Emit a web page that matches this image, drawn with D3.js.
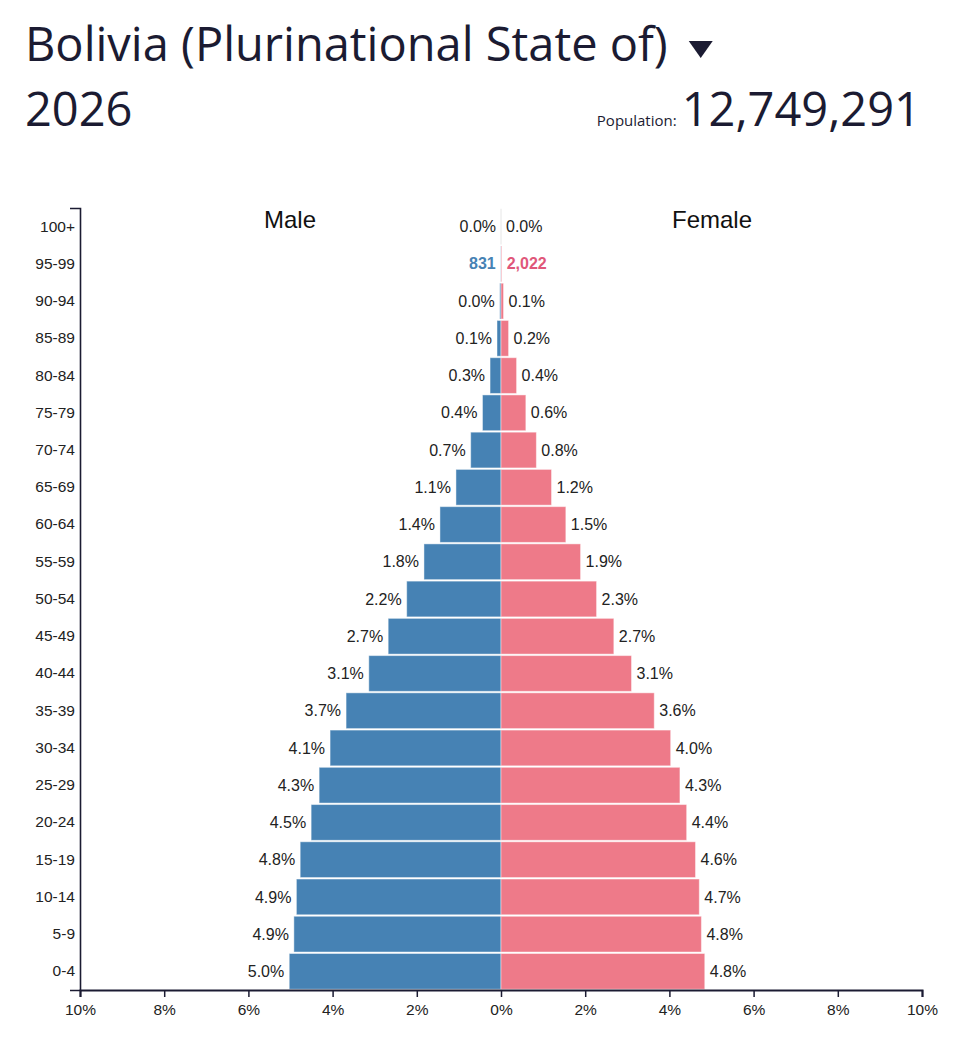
<!DOCTYPE html>
<html>
<head>
<meta charset="utf-8">
<script src="https://cdn.jsdelivr.net/npm/d3@7"></script>
<style>
  html, body { margin: 0; padding: 0; background: #fff; }
  svg { display: block; }
</style>
</head>
<body>
<svg id="chart" width="954" height="1048"></svg>
<script>
// ---- data (top to bottom) ----
const country = "Bolivia (Plurinational State of)";
const year = "2026";
const population = 12749291;
const ageGroups = ["100+","95-99","90-94","85-89","80-84","75-79","70-74","65-69","60-64","55-59","50-54","45-49","40-44","35-39","30-34","25-29","20-24","15-19","10-14","5-9","0-4"];
const malePct   = [0.0, 0.0065, 0.03, 0.095, 0.26, 0.44, 0.72, 1.07, 1.45, 1.83, 2.24, 2.68, 3.14, 3.68, 4.06, 4.32, 4.51, 4.77, 4.86, 4.92, 5.03];
const femalePct = [0.0, 0.016, 0.06, 0.18, 0.37, 0.59, 0.84, 1.20, 1.54, 1.89, 2.27, 2.68, 3.10, 3.64, 4.03, 4.25, 4.41, 4.62, 4.71, 4.76, 4.84];
const countLabels = { "95-99": [831, 2022] };
const xTicks = [-10,-8,-6,-4,-2,0,2,4,6,8,10];

const svg = d3.select("#chart");
const ink = "#1b1b32";
const maleColor = "#4682b4";
const femaleColor = "#ee7a89";
const headFont = "'Open Sans', 'Noto Sans', sans-serif";

// ---- header ----
const title = svg.append("text").attr("x", 25).attr("y", 61)
  .attr("font-family", headFont).attr("font-size", 47)
  .attr("fill", ink).text(country);
const tb = title.node().getBBox();
const tx = tb.x + tb.width;
svg.append("path")
  .attr("d", d3.line()([[tx + 21, 41], [tx + 45, 41], [tx + 33, 58]]) + "Z")
  .attr("fill", ink);

svg.append("text").attr("x", 25).attr("y", 126)
  .attr("font-family", headFont).attr("font-size", 47)
  .attr("fill", ink).text(year);

const popNum = svg.append("text").attr("x", 921).attr("y", 126).attr("text-anchor", "end")
  .attr("font-family", headFont).attr("font-size", 47)
  .attr("fill", ink).text(d3.format(",")(population));
const pb = popNum.node().getBBox();
svg.append("text").attr("x", pb.x - 5).attr("y", 126).attr("text-anchor", "end")
  .attr("font-family", headFont).attr("font-size", 15)
  .attr("fill", ink).text("Population:");

// ---- scales ----
const x = d3.scaleLinear().domain([-10, 10]).range([80, 922]);
const y = d3.scaleBand().domain(ageGroups).range([208, 990]).paddingInner(0.04).paddingOuter(0.02);

const rows = ageGroups.map((a, i) => ({ age: a, m: malePct[i], f: femalePct[i] }));
const labelFont = "'Liberation Sans', Arial, sans-serif";

// ---- bars ----
svg.append("g").selectAll("rect").data(rows).join("rect")
  .attr("x", d => x(-d.m)).attr("y", d => y(d.age))
  .attr("width", d => x(0) - x(-d.m)).attr("height", y.bandwidth())
  .attr("fill", maleColor).attr("stroke", "rgba(255,255,255,0.45)").attr("stroke-width", 1);
svg.append("g").selectAll("rect").data(rows).join("rect")
  .attr("x", x(0)).attr("y", d => y(d.age))
  .attr("width", d => x(d.f) - x(0)).attr("height", y.bandwidth())
  .attr("fill", femaleColor).attr("stroke", "rgba(255,255,255,0.45)").attr("stroke-width", 1);
// faint centre line for empty rows
svg.append("g").selectAll("line").data(rows.filter(d => d.m === 0 && d.f === 0)).join("line")
  .attr("x1", x(0)).attr("x2", x(0)).attr("y1", d => y(d.age)).attr("y2", d => y(d.age) + y.bandwidth())
  .attr("stroke", "#e6e6e6").attr("stroke-width", 1);

// ---- bar labels ----
const fmt = v => d3.format(".1f")(v) + "%";
svg.append("g").selectAll("text").data(rows).join("text")
  .attr("x", d => x(-d.m) - 5).attr("y", d => y(d.age) + y.bandwidth() / 2)
  .attr("dy", "0.35em").attr("text-anchor", "end")
  .attr("font-family", labelFont).attr("font-size", 16)
  .attr("font-weight", d => countLabels[d.age] ? "bold" : "normal")
  .attr("fill", d => countLabels[d.age] ? maleColor : "#222")
  .text(d => countLabels[d.age] ? d3.format(",")(countLabels[d.age][0]) : fmt(d.m));
svg.append("g").selectAll("text").data(rows).join("text")
  .attr("x", d => x(d.f) + 5).attr("y", d => y(d.age) + y.bandwidth() / 2)
  .attr("dy", "0.35em").attr("text-anchor", "start")
  .attr("font-family", labelFont).attr("font-size", 16)
  .attr("font-weight", d => countLabels[d.age] ? "bold" : "normal")
  .attr("fill", d => countLabels[d.age] ? "#e0577a" : "#222")
  .text(d => countLabels[d.age] ? d3.format(",")(countLabels[d.age][1]) : fmt(d.f));

// ---- headers ----
svg.append("text").attr("x", 290).attr("y", 228).attr("text-anchor", "middle")
  .attr("font-family", labelFont).attr("font-size", 24).attr("fill", "#111").text("Male");
svg.append("text").attr("x", 712).attr("y", 228).attr("text-anchor", "middle")
  .attr("font-family", labelFont).attr("font-size", 24).attr("fill", "#111").text("Female");

// ---- axes ----
const yAxis = svg.append("g").attr("transform", `translate(${x(-10)},0)`)
  .call(d3.axisLeft(y).tickSize(0).tickSizeOuter(10).tickPadding(5));
yAxis.selectAll("text").attr("font-family", labelFont).attr("font-size", 15.5).attr("fill", "#222");
yAxis.select(".domain").attr("stroke", ink).attr("stroke-width", 1.6);

const xAxis = svg.append("g").attr("transform", `translate(0,990)`)
  .call(d3.axisBottom(x).tickValues(xTicks).tickSize(7).tickSizeOuter(7).tickPadding(7)
    .tickFormat(d => Math.abs(d) + "%"));
xAxis.selectAll("text").attr("font-family", labelFont).attr("font-size", 15.5).attr("fill", "#222");
xAxis.select(".domain").attr("stroke", ink).attr("stroke-width", 2);
xAxis.selectAll(".tick line").attr("stroke", ink).attr("stroke-width", 1.5);
</script>
</body>
</html>
